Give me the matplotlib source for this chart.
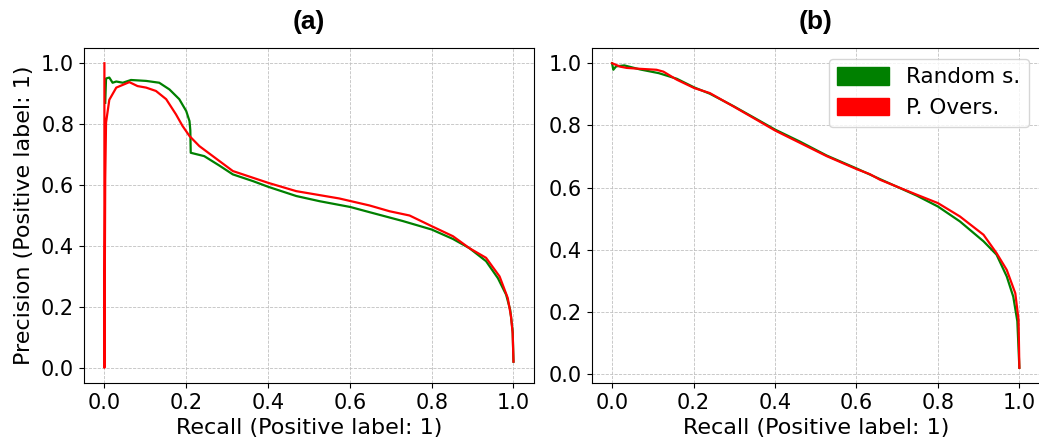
import matplotlib
matplotlib.use("Agg")
import matplotlib.pyplot as plt
import matplotlib.patches as mpatches

# precision-recall points, panel (a)
recall_a_rand = [0.002, 0.004, 0.012, 0.020, 0.029, 0.045, 0.065, 0.102, 0.134, 0.159,
                 0.183, 0.200, 0.208, 0.210, 0.211, 0.244, 0.281, 0.314, 0.363, 0.401,
                 0.469, 0.526, 0.601, 0.648, 0.729, 0.800, 0.852, 0.892, 0.933, 0.962,
                 0.982, 0.992, 0.998, 1.000]
prec_a_rand = [0.870, 0.950, 0.953, 0.936, 0.940, 0.936, 0.945, 0.942, 0.936, 0.914,
               0.882, 0.843, 0.810, 0.780, 0.706, 0.695, 0.664, 0.635, 0.613, 0.594,
               0.564, 0.547, 0.528, 0.511, 0.482, 0.454, 0.423, 0.393, 0.350, 0.294,
               0.240, 0.190, 0.120, 0.020]

recall_a_over = [0.000, 0.000, 0.002, 0.004, 0.012, 0.029, 0.061, 0.081, 0.102, 0.126,
                 0.151, 0.175, 0.191, 0.208, 0.232, 0.265, 0.314, 0.401, 0.469, 0.574,
                 0.648, 0.697, 0.746, 0.800, 0.852, 0.892, 0.933, 0.966, 0.986, 0.994,
                 0.998, 1.000]
prec_a_over = [1.000, 0.000, 0.620, 0.805, 0.880, 0.920, 0.938, 0.925, 0.920, 0.909,
               0.882, 0.832, 0.794, 0.761, 0.728, 0.695, 0.646, 0.607, 0.580, 0.556,
               0.533, 0.514, 0.500, 0.465, 0.432, 0.393, 0.361, 0.300, 0.229, 0.168,
               0.113, 0.020]

# precision-recall points, panel (b)
recall_b_rand = [0.000, 0.003, 0.010, 0.030, 0.069, 0.115, 0.159, 0.202, 0.240, 0.298,
                 0.347, 0.401, 0.461, 0.527, 0.601, 0.658, 0.748, 0.800, 0.854, 0.912,
                 0.944, 0.969, 0.985, 0.995, 1.000]
prec_b_rand = [1.000, 0.979, 0.990, 0.993, 0.980, 0.968, 0.950, 0.922, 0.902, 0.862,
               0.826, 0.786, 0.748, 0.703, 0.661, 0.627, 0.574, 0.539, 0.491, 0.427,
               0.384, 0.314, 0.249, 0.170, 0.020]

recall_b_over = [0.000, 0.020, 0.036, 0.069, 0.109, 0.126, 0.159, 0.202, 0.240, 0.298,
                 0.347, 0.401, 0.461, 0.527, 0.601, 0.633, 0.658, 0.748, 0.800, 0.854,
                 0.912, 0.944, 0.969, 0.990, 0.998, 1.000]
prec_b_over = [1.000, 0.989, 0.985, 0.982, 0.979, 0.973, 0.947, 0.920, 0.904, 0.861,
               0.824, 0.783, 0.744, 0.701, 0.659, 0.643, 0.625, 0.577, 0.550, 0.507,
               0.448, 0.389, 0.335, 0.260, 0.174, 0.020]

ticks = [0.0, 0.2, 0.4, 0.6, 0.8, 1.0]
series_names = ["Random s.", "P. Overs."]
series_colors = ["green", "red"]

fig = plt.figure(figsize=(10.39, 4.45), dpi=100)
ax_a = fig.add_axes([0.0808, 0.1393, 0.4331, 0.7528])
ax_b = fig.add_axes([0.5695, 0.1393, 0.4312, 0.7528])

panels = [
    (ax_a, "(a)", recall_a_rand, prec_a_rand, recall_a_over, prec_a_over),
    (ax_b, "(b)", recall_b_rand, prec_b_rand, recall_b_over, prec_b_over),
]

for ax, title, r1, p1, r2, p2 in panels:
    ax.plot(r1, p1, color=series_colors[0], lw=1.6)
    ax.plot(r2, p2, color=series_colors[1], lw=1.6)
    ax.set_xticks(ticks)
    ax.set_yticks(ticks)
    ax.tick_params(labelsize=15)
    ax.grid(True, linestyle="--", linewidth=0.6, color="#c0c0c0")
    ax.set_axisbelow(True)
    ax.set_xlabel("Recall (Positive label: 1)", fontsize=16, labelpad=4)
    ax.set_title(title, fontsize=19, fontweight="bold",
                 family=["Liberation Sans", "DejaVu Sans"], pad=14)

ax_a.set_ylabel("Precision (Positive label: 1)", fontsize=16, labelpad=5)

handles = [mpatches.Patch(color=c, label=n) for c, n in zip(series_colors, series_names)]
ax_b.legend(handles=handles, loc="upper right", fontsize=15.5,
            handlelength=2.4, handleheight=0.85)

fig.savefig("out.png", dpi=100)
